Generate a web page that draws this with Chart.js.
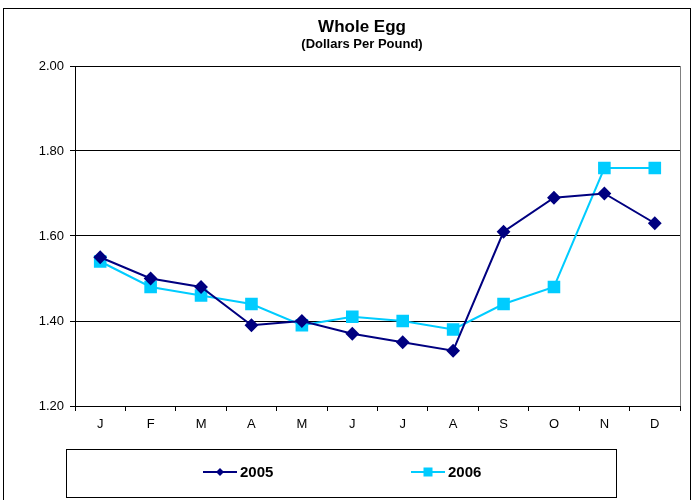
<!DOCTYPE html>
<html>
<head>
<meta charset="utf-8">
<script src="https://cdn.jsdelivr.net/npm/chart.js@4/dist/chart.umd.min.js"></script>
<style>
html,body{margin:0;padding:0;background:#fff;}
#wrap{width:694px;height:500px;position:relative;}
</style>
</head>
<body>
<div id="wrap"><canvas id="c" width="694" height="500"></canvas></div>
<script>
const months = ["J","F","M","A","M","J","J","A","S","O","N","D"];
const series2005 = [1.55,1.50,1.48,1.39,1.40,1.37,1.35,1.33,1.61,1.69,1.70,1.63];
const series2006 = [1.54,1.48,1.46,1.44,1.39,1.41,1.40,1.38,1.44,1.48,1.76,1.76];
const titleText = "Whole Egg";
const subtitleText = "(Dollars Per Pound)";

const frame = {
  id: 'frame',
  afterDraw(chart) {
    const ctx = chart.ctx;
    const a = chart.chartArea;
    ctx.save();
    // outer border
    ctx.strokeStyle = '#000';
    ctx.lineWidth = 1;
    ctx.strokeRect(3.5, 8.5, 687, 500);
    // plot area right border (gray)
    ctx.strokeStyle = '#808080';
    ctx.beginPath();
    ctx.moveTo(Math.round(a.right)+0.5, a.top);
    ctx.lineTo(Math.round(a.right)+0.5, a.bottom);
    ctx.stroke();
    // titles
    ctx.fillStyle = '#000';
    ctx.textAlign = 'center';
    ctx.textBaseline = 'middle';
    ctx.font = 'bold 17px "Liberation Sans", Arial, sans-serif';
    ctx.fillText(titleText, 362, 27);
    ctx.font = 'bold 13px "Liberation Sans", Arial, sans-serif';
    ctx.fillText(subtitleText, 362, 44);
    // legend box
    ctx.strokeStyle = '#000';
    ctx.strokeRect(66.5, 449.5, 550, 48);
    const items = [{x:203}, {x:411}];
    chart.data.datasets.forEach((ds, i) => {
      const x0 = items[i].x, y = 472;
      ctx.strokeStyle = ds.borderColor;
      ctx.lineWidth = 2;
      ctx.beginPath();
      ctx.moveTo(x0, y); ctx.lineTo(x0 + 34, y); ctx.stroke();
      ctx.fillStyle = ds.backgroundColor;
      const cx = x0 + 17;
      if (ds.pointStyle === 'rectRot') {
        ctx.beginPath();
        ctx.moveTo(cx, y-4); ctx.lineTo(cx+4, y); ctx.lineTo(cx, y+4); ctx.lineTo(cx-4, y); ctx.closePath(); ctx.fill();
      } else {
        ctx.fillRect(cx-4.5, y-4.5, 9, 9);
      }
      ctx.fillStyle = '#000';
      ctx.textAlign = 'left';
      ctx.font = 'bold 15px "Liberation Sans", Arial, sans-serif';
      ctx.fillText(ds.label, x0 + 37, y + 1);
    });
    ctx.restore();
  }
};

new Chart(document.getElementById('c'), {
  type: 'line',
  data: {
    labels: months,
    datasets: [
      {label:'2005', data: series2005, borderColor:'#000080', backgroundColor:'#000080',
       pointStyle:'rectRot', pointRadius:5.5, pointHoverRadius:5.5, borderWidth:2, tension:0},
      {label:'2006', data: series2006, borderColor:'#00CCFF', backgroundColor:'#00CCFF',
       pointStyle:'rect', pointRadius:7.5, pointHoverRadius:7.5, borderWidth:2, tension:0}
    ]
  },
  options: {
    responsive:false, animation:false,
    layout:{padding:{top:66,right:14,bottom:0,left:0}},
    plugins:{legend:{display:false}, tooltip:{enabled:false}},
    scales:{
      x:{
        offset:true,
        grid:{offset:true, drawOnChartArea:false, color:'#000', tickLength:5, tickColor:'#000'},
        border:{color:'#000', width:1},
        ticks:{color:'#000', font:{family:'"Liberation Sans", Arial, sans-serif', size:13}, padding:6, maxRotation:0, autoSkip:false},
        afterFit(s){ s.height = 94; }
      },
      y:{
        min:1.2, max:2.0,
        grid:{color:'#000', tickLength:5, tickColor:'#000'},
        border:{color:'#000', width:1},
        ticks:{stepSize:0.2, color:'#000', font:{family:'"Liberation Sans", Arial, sans-serif', size:13}, padding:6,
               callback:(v)=>v.toFixed(2)},
        afterFit(s){ s.width = 75; }
      }
    }
  },
  plugins:[frame]
});
</script>
</body>
</html>
